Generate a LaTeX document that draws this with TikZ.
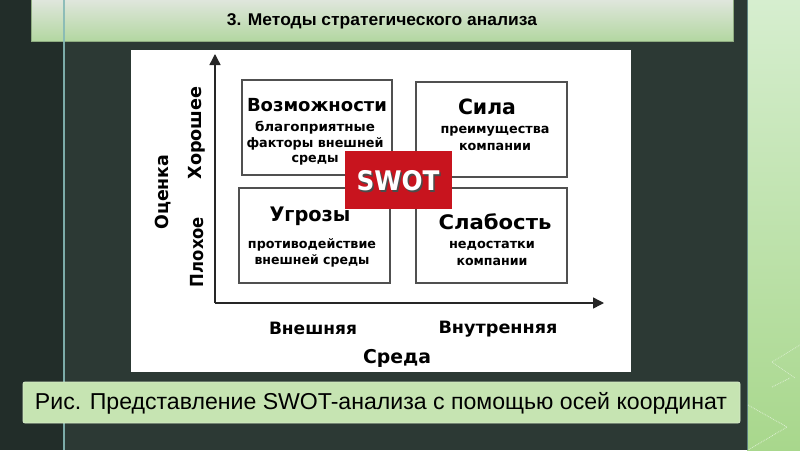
\documentclass[tikz,border=0pt]{standalone}
\usepackage{fontspec}
\usepackage{graphicx}
\setmainfont{Liberation Sans}
\newfontfamily\dv{DejaVu Sans}
\usetikzlibrary{arrows.meta}
\definecolor{bgdark}{HTML}{2C3934}
\definecolor{bgleft}{HTML}{222D29}
\definecolor{vline}{HTML}{86B9B6}
\definecolor{titletop}{HTML}{DFE6DC}
\definecolor{titlebot}{HTML}{B3D7A1}
\definecolor{capfill}{HTML}{C6E4B2}
\definecolor{striptop}{HTML}{D6EECF}
\definecolor{stripbot}{HTML}{A8D78C}
\definecolor{swotred}{HTML}{C8141E}
\definecolor{boxline}{HTML}{505050}
\newcommand\fw[3]{\resizebox{#1pt}{\height}{\fontsize{#2}{#2}\selectfont #3}}
\tikzset{
  quad/.style={draw=boxline, line width=1.3pt, fill=white},
  lbl/.style={inner sep=0pt, font=\dv\bfseries, text=black},
  axis/.style={line width=1.4pt, draw=black!85, -{Triangle[length=11pt,width=11pt]}},
}
\begin{document}
\begin{tikzpicture}[x=1pt,y=-1pt]
\useasboundingbox (0,0) rectangle (800,450);
% background
\fill[bgdark] (0,0) rectangle (747,450);
\fill[bgleft] (0,0) rectangle (64,450);
\shade[top color=striptop, bottom color=stripbot] (747,0) rectangle (800,450);
\draw[vline!70!black, line width=1.5pt] (747.5,0) -- (747.5,450);
\draw[white, opacity=0.6, densely dotted, line width=0.8pt] (748,405) -- (787,427) -- (748,450);
\draw[white, opacity=0.6, densely dotted, line width=0.8pt] (772,387) -- (790,378);
\draw[white, opacity=0.5, densely dotted, line width=0.8pt] (772,362) -- (800,345);
\draw[white, opacity=0.5, densely dotted, line width=0.8pt] (772,362) -- (795,378);
% title bar
\shade[top color=titletop, bottom color=titlebot] (31,0) rectangle (733,41);
\draw[titlebot!80!black, line width=0.6pt] (31,0) -- (31,41) -- (733,41) -- (733,0);
\draw[vline, line width=2pt, opacity=0.9] (64,0) -- (64,450);
\node[inner sep=0pt] (title) at (382,21) {\fw{310}{17}{\bfseries 3. Методы стратегического анализа}};
% white image
\fill[white] (131,50) rectangle (631,372);
% caption
\draw[fill=capfill, draw=capfill!70!white, line width=0.8pt, rounded corners=2pt] (23,382) rectangle (740,423);
\node[inner sep=0pt] (caption) at (381,403) {\fw{692}{23}{Рис. Представление SWOT-анализа с помощью осей координат}};
% axes
\coordinate (o) at (215,303);
\coordinate (ytip) at (215,54);
\coordinate (xtip) at (604,303);
\draw[axis] (o) -- (ytip);
\draw[axis] (o) -- (xtip);
% quadrants
\draw[quad] (242,80) rectangle (392,175);
\draw[quad] (416,82) rectangle (567,177);
\draw[quad] (239,188) rectangle (390,283);
\draw[quad] (416,188) rectangle (567,283);
\node[lbl] (voz) at (317,105) {\fw{140}{18}{Возможности}};
\node[lbl] (voz1) at (315,128) {\fw{120}{13}{благоприятные}};
\node[lbl] (voz2) at (315,144) {\fw{137}{13}{факторы внешней}};
\node[lbl] (voz3) at (315,160) {\fw{47}{13}{среды}};
\node[lbl] (sila) at (487,107) {\fw{58}{21}{Сила}};
\node[lbl] (sila1) at (495,131) {\fw{109}{13}{преимущества}};
\node[lbl] (sila2) at (495,147) {\fw{72}{13}{компании}};
\node[lbl] (ugr) at (310,216) {\fw{81}{20}{Угрозы}};
\node[lbl] (ugr1) at (312,245) {\fw{128}{13}{противодействие}};
\node[lbl] (ugr2) at (312,261) {\fw{115}{13}{внешней среды}};
\node[lbl] (slab) at (495,222) {\fw{113}{20}{Слабость}};
\node[lbl] (slab1) at (492,246) {\fw{86}{13}{недостатки}};
\node[lbl] (slab2) at (492,262) {\fw{71}{13}{компании}};
% SWOT
\fill[swotred] (345,151) rectangle (452,209);
\node[lbl, text=black!70] (swotsh) at (399.5,182.5) {\fw{83}{27}{SWOT}};
\node[lbl, text=white] (swot) at (398,181) {\fw{83}{27}{SWOT}};
% axis labels
\node[lbl] (vnesh) at (313,328) {\fw{88}{17}{Внешняя}};
\node[lbl] (vnutr) at (498,329) {\fw{119}{17}{Внутренняя}};
\node[lbl] (sreda) at (397,358) {\fw{68}{19}{Среда}};
\node[lbl, rotate=90] (hor) at (197,133) {\fw{93}{18}{Хорошее}};
\node[lbl, rotate=90] (plo) at (197,252) {\fw{70}{18}{Плохое}};
\node[lbl, rotate=90] (oce) at (163,192) {\fw{75}{18}{Оценка}};
\end{tikzpicture}
\end{document}
